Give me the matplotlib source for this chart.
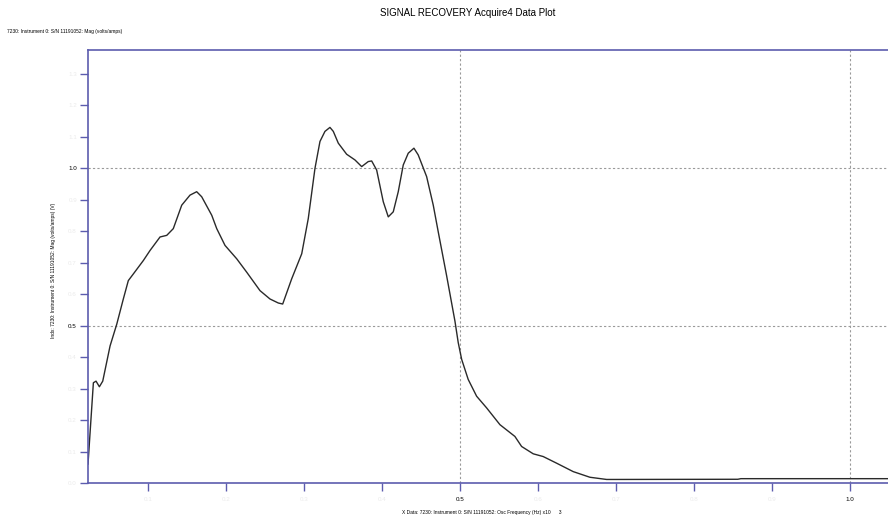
import numpy as np
import matplotlib
matplotlib.use("Agg")
import matplotlib.pyplot as plt
from matplotlib.ticker import MultipleLocator, FixedLocator

plt.rcParams['font.family'] = ['Liberation Sans', 'DejaVu Sans']

# Osc frequency (x10^3 Hz) and magnitude (V)
freq = [0.023, 0.0299, 0.0333, 0.0376, 0.0419, 0.0513, 0.0599, 0.0683, 0.0747,
        0.0812, 0.0940, 0.1026, 0.1154, 0.1240, 0.1324, 0.1432, 0.1538, 0.1624,
        0.1688, 0.1817, 0.1881, 0.1987, 0.2137, 0.2265, 0.2436, 0.2564, 0.2671,
        0.2727, 0.2842, 0.2971, 0.3055, 0.3141, 0.3205, 0.3269, 0.3333, 0.3376,
        0.3440, 0.3547, 0.3654, 0.3740, 0.3824, 0.3868, 0.3932, 0.4017, 0.4081,
        0.4145, 0.4209, 0.4273, 0.4337, 0.4410, 0.4465, 0.4573, 0.4658, 0.4722,
        0.4829, 0.4936, 0.4978, 0.5022, 0.5106, 0.5214, 0.5342, 0.5513, 0.5705,
        0.5791, 0.5940, 0.6068, 0.6240, 0.6453, 0.6667, 0.6881, 0.7009, 0.8564,
        0.8603, 1.049]
mag = [0.060, 0.3185, 0.3236, 0.3058, 0.3236, 0.4355, 0.5048, 0.5847, 0.6431,
       0.6645, 0.7070, 0.7390, 0.7818, 0.7869, 0.8083, 0.8828, 0.9147, 0.9256,
       0.9096, 0.8508, 0.8083, 0.7550, 0.7125, 0.6700, 0.6112, 0.5847, 0.5719,
       0.5687, 0.6486, 0.7284, 0.8403, 1.0000, 1.0853, 1.1173, 1.1300, 1.1173,
       1.0799, 1.0447, 1.0265, 1.0054, 1.0214, 1.0233, 0.9946, 0.8936, 0.8457,
       0.8617, 0.9256, 1.0105, 1.0479, 1.0639, 1.0425, 0.9735, 0.8827, 0.7978,
       0.6591, 0.5144, 0.4463, 0.3930, 0.3291, 0.2757, 0.2387, 0.1853, 0.1479,
       0.1160, 0.0927, 0.0840, 0.0629, 0.0361, 0.0182, 0.0112, 0.0112, 0.0118,
       0.0137, 0.0137]

x_major = [0.5, 1.0]
y_major = [0.5, 1.0]

fig = plt.figure(figsize=(8.88, 5.19), dpi=100)
ax = fig.add_axes([0.0991, 0.0694, 0.9009, 0.8343])

axis_blue = '#5c5cae'
ax.plot(freq, mag, color='#2a2a2a', lw=1.0)

ax.set_xlim(0.023, 1.049)
ax.set_ylim(0.0, 1.376)

for v in x_major:
    ax.axvline(v, color='#9a9a9a', lw=0.8, ls=(0, (2, 2)), zorder=0)
for v in y_major:
    ax.axhline(v, color='#9a9a9a', lw=0.8, ls=(0, (2, 2)), zorder=0)

ax.xaxis.set_major_locator(FixedLocator(x_major))
ax.yaxis.set_major_locator(FixedLocator(y_major))
ax.xaxis.set_minor_locator(MultipleLocator(0.1))
ax.yaxis.set_minor_locator(MultipleLocator(0.1))
ax.xaxis.set_minor_formatter(plt.FuncFormatter(lambda v, p: f"{v:.1f}"))
ax.yaxis.set_minor_formatter(plt.FuncFormatter(lambda v, p: f"{v:.1f}"))

ax.tick_params(axis='both', which='both', direction='out', length=6,
               width=1, color=axis_blue, labelsize=4.5)
ax.tick_params(axis='y', which='both', pad=2)
ax.tick_params(axis='x', which='both', pad=4)
ax.tick_params(axis='both', which='minor', labelcolor='#ebebeb')

for side in ['left', 'bottom', 'top']:
    ax.spines[side].set_color(axis_blue)
    ax.spines[side].set_linewidth(1.2)
ax.spines['right'].set_visible(False)

fig.text(0.527, 0.975, 'SIGNAL RECOVERY Acquire4 Data Plot',
         ha='center', va='center', fontsize=7)
fig.text(0.008, 0.94, '7230: Instrument 0: S/N 11191052: Mag (volts/amps)',
         ha='left', va='center', fontsize=3.5)
fig.text(0.060, 0.48,
         'Indx: 7230: Instrument 0: S/N 11191052: Mag (volts/amps) (V)',
         rotation=90, ha='center', va='center', fontsize=3.5)
fig.text(0.542, 0.012,
         'X Data: 7230: Instrument 0: S/N 11191052: Osc Frequency (Hz) x10      3',
         ha='center', va='center', fontsize=3.5)

fig.savefig('out.png', dpi=100)
